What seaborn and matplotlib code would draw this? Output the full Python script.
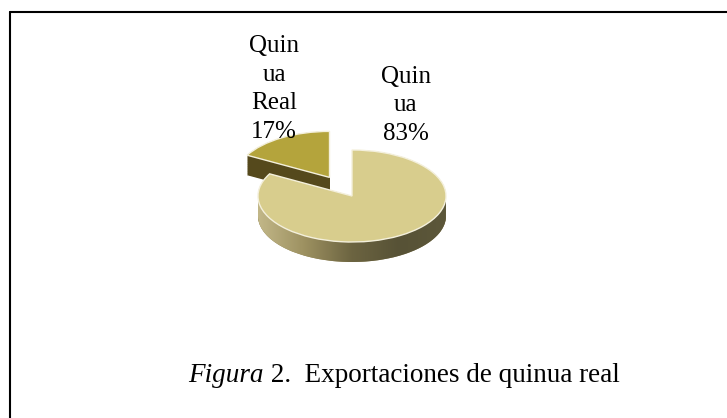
import numpy as np
import matplotlib
matplotlib.use("Agg")
import matplotlib.pyplot as plt
import seaborn as sns
from matplotlib.path import Path
from matplotlib.patches import PathPatch
from matplotlib.colors import LinearSegmentedColormap
from matplotlib.lines import Line2D

# data
slice_names = ["Quinua Real", "Quinua"]
label_texts = ["Quin\nua\nReal\n17%", "Quin\nua\n83%"]
values = [17, 83]
explode = [0.47, 0.0]
top_colors = ["#b4a43c", "#d8cd8d"]
side_colors = ["#55491c", "#8f8457"]
caption_italic = "Figura"
caption_rest = " 2.  Exportaciones de quinua real"

sns.set_theme(style="white")
plt.rcParams["font.family"] = ["Liberation Serif", "DejaVu Serif"]
plt.rcParams["text.color"] = "black"

W, H = 727, 418
fig = plt.figure(figsize=(W / 100, H / 100), dpi=100)
ax = fig.add_axes([0, 0, 1, 1])

# pie centre and radii in pixels (tilted 3-D look)
cx, cy = 352, 196
rx, ry = 94, 46
depth = 20 / ry

# ---- side walls: stacked pies shifted downward ----
for k in np.linspace(depth, 0, 30):
    ax.pie(values, explode=explode, colors=side_colors, startangle=90,
           center=(0, -k), wedgeprops=dict(linewidth=0, zorder=1))

# ---- shaded front wall of the big slice ----
th = np.linspace(np.pi, 2 * np.pi, 200)
xs = np.concatenate([np.cos(th), np.cos(th[::-1])])
ys = np.concatenate([np.sin(th), np.sin(th[::-1]) - depth])
band = PathPatch(Path(np.column_stack([xs, ys])), facecolor="none", edgecolor="none")
ax.add_patch(band)
cmap = LinearSegmentedColormap.from_list(
    "side", ["#c2b788", "#9c9060", "#6c6441", "#575236", "#5c573a"])
im = ax.imshow(np.linspace(0, 1, 256)[None, :], extent=(-1, 1, -1 - depth, 0),
               aspect="auto", cmap=cmap, zorder=2)
im.set_clip_path(band)

# ---- top faces ----
wedges, _ = ax.pie(values, explode=explode, colors=top_colors, startangle=90,
                   wedgeprops=dict(edgecolor="#f4f0dc", linewidth=1, zorder=3))

# ---- slice labels ----
label_pos = [(-0.83, 2.33), (0.57, 1.97)]
for txt, (lx, ly) in zip(label_texts, label_pos):
    ax.text(lx, ly, txt, ha="center", va="center", fontsize=18,
            color="black", linespacing=1.38, zorder=4)

ax.set_xlim(-cx / rx, (W - cx) / rx)
ax.set_ylim(-(H - cy) / ry, cy / ry)
ax.set_aspect("auto")
ax.axis("off")

# ---- frame lines (top and left only) ----
fig.add_artist(Line2D([10 / W, 10 / W], [0, 1 - 12 / H], transform=fig.transFigure,
                      color="black", lw=1.5))
fig.add_artist(Line2D([10 / W, 1], [1 - 12 / H, 1 - 12 / H], transform=fig.transFigure,
                      color="black", lw=1.5))

# ---- caption ----
t1 = fig.text(188 / W, 1 - 382 / H, caption_italic, style="italic", fontsize=19.5,
              va="baseline", ha="left", color="black")
ax.annotate(caption_rest, xy=(1, 0), xycoords=t1, va="bottom", ha="left",
            fontsize=19.5, color="black")

fig.savefig("out.png", dpi=100, facecolor="white")
